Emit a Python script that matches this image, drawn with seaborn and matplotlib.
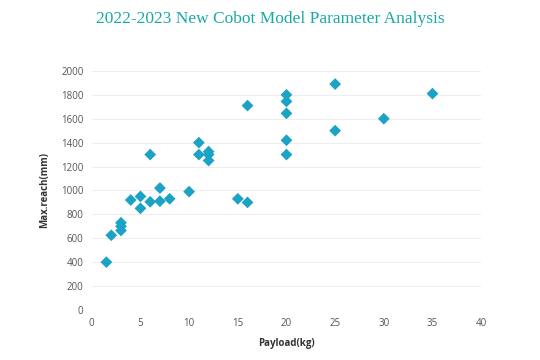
import matplotlib
matplotlib.use('Agg')
import matplotlib.pyplot as plt
import pandas as pd
import seaborn as sns

payload = [1.5, 2, 3, 3, 3, 4, 5, 5, 6, 6, 7, 7, 8, 10, 11, 11, 12, 12, 12,
           15, 16, 16, 20, 20, 20, 20, 20, 25, 25, 30, 35]
reach = [400, 625, 730, 700, 665, 920, 950, 850, 1300, 905, 1020, 910, 930, 990,
         1400, 1300, 1325, 1300, 1250, 930, 900, 1710, 1800, 1745, 1645, 1420,
         1300, 1890, 1500, 1600, 1810]

df = pd.DataFrame({'Payload(kg)': payload, 'Max.reach(mm)': reach})

sns.set_style('white')
plt.rcParams['font.family'] = ['Open Sans', 'DejaVu Sans']

fig = plt.figure(figsize=(5.4, 3.6), dpi=100)
ax = fig.add_axes([0.170, 0.139, 0.721, 0.664])
sns.scatterplot(data=df, x='Payload(kg)', y='Max.reach(mm)', marker='D',
                color='#1ba3c6', s=36, edgecolor='none', ax=ax, zorder=3)

ax.set_xlim(0, 40)
ax.set_ylim(0, 2000)
ax.set_xticks(range(0, 41, 5))
ax.set_yticks(range(0, 2001, 200))
ax.yaxis.grid(True, color='#eeeeee', linewidth=0.8)
ax.xaxis.grid(False)
sns.despine(ax=ax, left=True, bottom=True)
ax.tick_params(axis='both', length=0, labelsize=7, labelcolor='#555555', pad=6)
ax.set_xlabel('Payload(kg)', fontsize=7, fontweight='bold', color='#333333', labelpad=6)
ax.set_ylabel('Max.reach(mm)', fontsize=7, fontweight='bold', color='#333333', labelpad=8)

fig.suptitle('2022-2023 New Cobot Model Parameter Analysis', x=0.5, y=0.97,
             fontsize=12.5, color='#17aaa5', family=['Liberation Serif', 'DejaVu Serif'])

fig.savefig('out.png', dpi=100)
